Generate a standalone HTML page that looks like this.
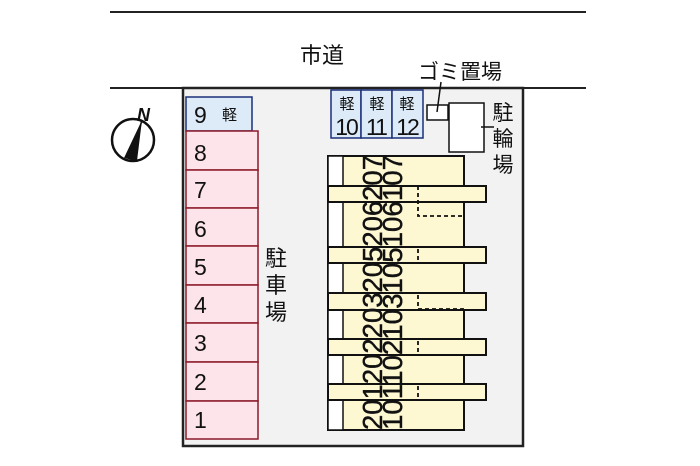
<!DOCTYPE html>
<html><head><meta charset="utf-8"><style>
html,body{margin:0;padding:0;background:#fff;}
svg{display:block;}
text{font-family:"Liberation Sans","Noto Sans CJK JP",sans-serif;fill:#111;}
</style></head><body>
<svg width="700" height="466" viewBox="0 0 700 466" xmlns="http://www.w3.org/2000/svg">
<rect width="700" height="466" fill="#fff"/>
<line x1="110" y1="12" x2="586" y2="12" stroke="#222" stroke-width="2"/>
<line x1="110" y1="88" x2="183" y2="88" stroke="#222" stroke-width="2"/>
<line x1="523" y1="88" x2="586" y2="88" stroke="#222" stroke-width="2"/>
<rect x="183" y="88" width="340" height="358" fill="#f2f2f2" stroke="#222" stroke-width="2.5"/>
<text x="322" y="63" font-size="22" text-anchor="middle">市道</text>
<text x="460" y="79" font-size="21" text-anchor="middle">ゴミ置場</text>
<!-- compass -->
<circle cx="133" cy="140" r="21" fill="#fff" stroke="#111" stroke-width="2.5"/>
<polygon points="142,120 124,158 137,161" fill="#111"/>
<line x1="142" y1="120" x2="131" y2="160" stroke="#111" stroke-width="1.5"/>
<text x="137" y="121" font-size="18" font-style="italic" font-weight="bold">N</text>
<!-- slot 9 -->
<rect x="186" y="97" width="66" height="34" fill="#ddeaf7" stroke="#1c2f7a" stroke-width="1.5"/>
<text x="194" y="123" font-size="23">9</text>
<text x="222" y="120" font-size="15">軽</text>
<!-- pink slots -->
<g fill="#fde3ea" stroke="#8b1a2a" stroke-width="1.5">
<rect x="186" y="131" width="72" height="39"/>
<rect x="186" y="170" width="72" height="38"/>
<rect x="186" y="208" width="72" height="38"/>
<rect x="186" y="246" width="72" height="39"/>
<rect x="186" y="285" width="72" height="38"/>
<rect x="186" y="323" width="72" height="39"/>
<rect x="186" y="362" width="72" height="39"/>
<rect x="186" y="401" width="72" height="38"/>
</g>
<g font-size="23">
<text x="194" y="161">8</text><text x="194" y="198">7</text><text x="194" y="237">6</text><text x="194" y="275">5</text>
<text x="194" y="313">4</text><text x="194" y="351">3</text><text x="194" y="390">2</text><text x="194" y="428">1</text>
</g>
<g font-size="22" text-anchor="middle">
<text x="276" y="266">駐</text><text x="276" y="293">車</text><text x="276" y="320">場</text>
</g>
<!-- light slots 10-12 -->
<g fill="#ddeaf7" stroke="#1c2f7a" stroke-width="1.5">
<rect x="331" y="90" width="30" height="48"/><rect x="361" y="90" width="31" height="48"/><rect x="392" y="90" width="31" height="48"/>
</g>
<g font-size="15" text-anchor="middle"><text x="347" y="109">軽</text><text x="377" y="109">軽</text><text x="407" y="109">軽</text></g>
<g font-size="23" text-anchor="middle" letter-spacing="-2"><text x="346" y="135">10</text><text x="376" y="135">11</text><text x="407" y="135">12</text></g>
<!-- garbage & bicycle -->
<rect x="427" y="105" width="21" height="15" fill="#fff" stroke="#111" stroke-width="1.5"/>
<line x1="437" y1="112" x2="441" y2="82" stroke="#111" stroke-width="1.5"/>
<rect x="449" y="103" width="35" height="49" fill="#fff" stroke="#111" stroke-width="1.5"/>
<line x1="481" y1="127" x2="494" y2="127" stroke="#111" stroke-width="1.5"/>
<g font-size="21" text-anchor="middle"><text x="503" y="120">駐</text><text x="503" y="146">輪</text><text x="503" y="172">場</text></g>
<!-- building -->
<g stroke="#111" stroke-width="2">
<rect x="328" y="156" width="136" height="274" fill="#fdf7d2"/>
<g fill="#fff" stroke-width="1.5">
<rect x="328" y="156" width="15" height="30"/><rect x="328" y="202" width="15" height="45"/>
<rect x="328" y="263" width="15" height="30"/><rect x="328" y="310" width="15" height="29"/>
<rect x="328" y="355" width="15" height="29"/><rect x="328" y="400" width="15" height="30"/>
</g>
<g fill="#fdf7d2">
<rect x="328" y="186" width="158" height="16"/><rect x="328" y="247" width="158" height="16"/>
<rect x="328" y="293" width="158" height="17"/><rect x="328" y="339" width="158" height="16"/>
<rect x="328" y="384" width="158" height="16"/>
</g>
<g fill="none" stroke-dasharray="4,3" stroke-width="1.8">
<path d="M418 186 V216 H464"/><path d="M418 249 V263 H464"/><path d="M418 295 V309 H464"/>
<path d="M418 341 V355 H464"/><path d="M418 386 V400 H464"/>
</g>
</g>
<g font-size="28" transform="rotate(-90)" stroke="#111" stroke-width="0.4">
<text x="-430" y="382" textLength="275" lengthAdjust="spacingAndGlyphs">201202203205206207</text>
<text x="-430" y="402" textLength="275" lengthAdjust="spacingAndGlyphs">101102103105106107</text>
</g>
</svg>
</body></html>
